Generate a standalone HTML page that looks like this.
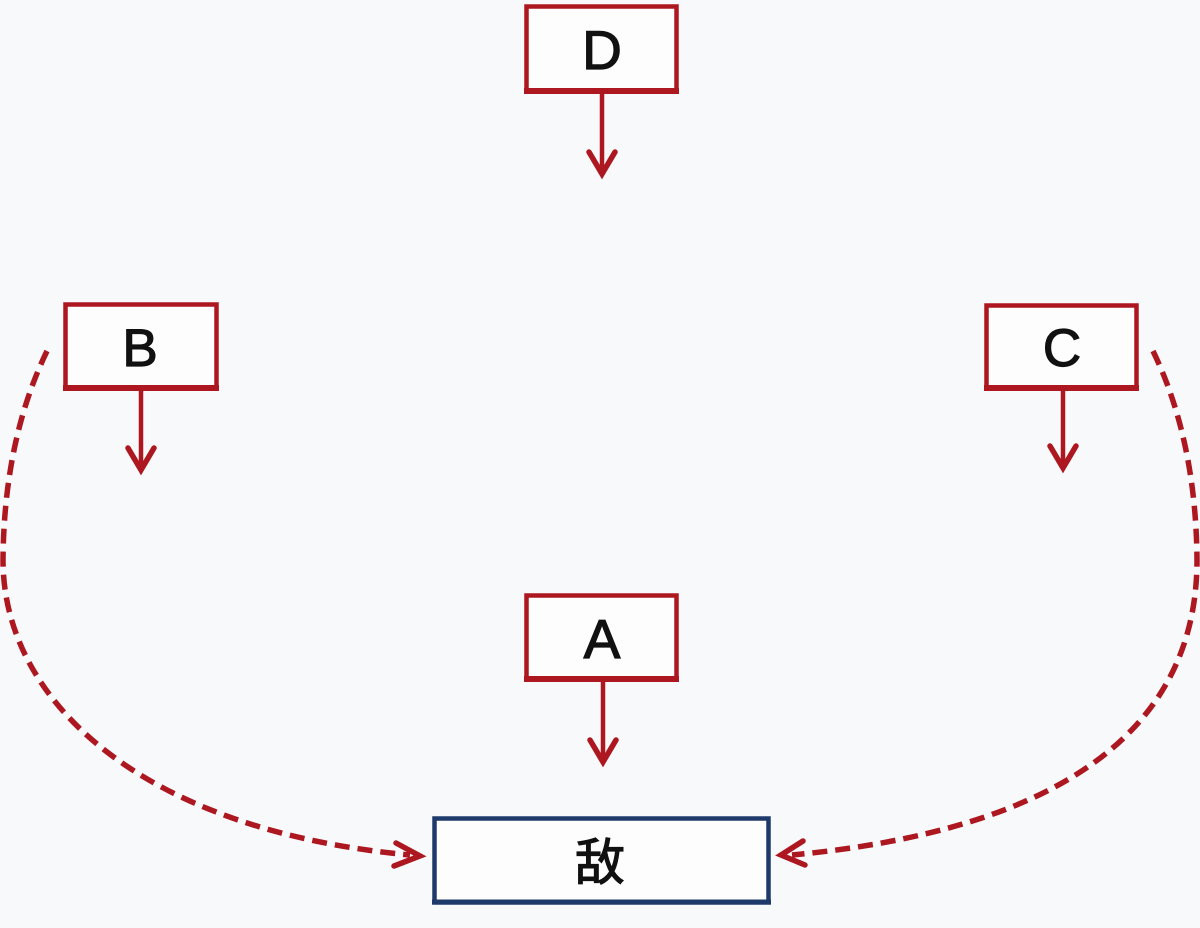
<!DOCTYPE html>
<html>
<head>
<meta charset="utf-8">
<style>
  html, body { margin:0; padding:0; }
  body { width:1200px; height:928px; background:#f8f9fb; overflow:hidden; }
  svg { display:block; }
  text { font-family: "Liberation Sans", "Noto Sans CJK SC", sans-serif; fill:#111; stroke:#111; stroke-width:1.2; }
</style>
</head>
<body>
<svg width="1200" height="928" viewBox="0 0 1200 928" xmlns="http://www.w3.org/2000/svg">
  <rect x="0" y="0" width="1200" height="928" fill="#f8f9fb"/>

  <!-- Box D -->
  <rect x="526.5" y="6.5" width="150" height="85" fill="#fdfdfe" stroke="#ad1820" stroke-width="4.5"/>
  <line x1="524" y1="91" x2="679" y2="91" stroke="#ad1820" stroke-width="6"/>
  <text x="602" y="69" font-size="55" text-anchor="middle">D</text>
  <line x1="602" y1="93" x2="602" y2="172" stroke="#ad1820" stroke-width="4.5"/>
  <polyline points="589,152 602,174 615,152" fill="none" stroke="#ad1820" stroke-width="5.5" stroke-linejoin="miter" stroke-linecap="round"/>

  <!-- Box B -->
  <rect x="65.5" y="304.5" width="151" height="84" fill="#fdfdfe" stroke="#ad1820" stroke-width="4.5"/>
  <line x1="63" y1="388" x2="219" y2="388" stroke="#ad1820" stroke-width="6"/>
  <text x="140" y="366" font-size="53" text-anchor="middle">B</text>
  <line x1="141" y1="390" x2="141" y2="468" stroke="#ad1820" stroke-width="4.5"/>
  <polyline points="128,448 141,470 154,448" fill="none" stroke="#ad1820" stroke-width="5.5" stroke-linejoin="miter" stroke-linecap="round"/>

  <!-- Box C -->
  <rect x="986.5" y="305.5" width="150" height="83" fill="#fdfdfe" stroke="#ad1820" stroke-width="4.5"/>
  <line x1="984" y1="388" x2="1139" y2="388" stroke="#ad1820" stroke-width="6"/>
  <text x="1062" y="366" font-size="53" text-anchor="middle">C</text>
  <line x1="1063" y1="390" x2="1063" y2="465" stroke="#ad1820" stroke-width="4.5"/>
  <polyline points="1050,446 1063,468 1076,446" fill="none" stroke="#ad1820" stroke-width="5.5" stroke-linejoin="miter" stroke-linecap="round"/>

  <!-- Box A -->
  <rect x="526.5" y="595.5" width="150" height="84" fill="#fdfdfe" stroke="#ad1820" stroke-width="4.5"/>
  <line x1="524" y1="679" x2="679" y2="679" stroke="#ad1820" stroke-width="6"/>
  <text x="602" y="658" font-size="55" text-anchor="middle">A</text>
  <line x1="603" y1="681" x2="603" y2="760" stroke="#ad1820" stroke-width="4.5"/>
  <polyline points="590,740 603,762 616,740" fill="none" stroke="#ad1820" stroke-width="5.5" stroke-linejoin="miter" stroke-linecap="round"/>

  <!-- Enemy box -->
  <rect x="434.5" y="818.5" width="334" height="84" fill="#fdfdfe" stroke="#1e3a6a" stroke-width="4.5"/>
  <line x1="432" y1="902" x2="771" y2="902" stroke="#1e3a6a" stroke-width="5"/>
  <text x="600" y="880" font-size="50" text-anchor="middle">敌</text>

  <!-- Left dashed curve -->
  <path d="M47,351 Q4,440 3,560 C3,700 140,830 410,855" fill="none" stroke="#ad1820" stroke-width="5.5" stroke-dasharray="15,8"/>
  <polyline points="396,843 420,856 394,866" fill="none" stroke="#ad1820" stroke-width="5.5" stroke-linejoin="miter" stroke-linecap="round"/>

  <!-- Right dashed curve -->
  <path d="M1153,351 Q1196,440 1197,560 C1197,730 1060,830 792,855" fill="none" stroke="#ad1820" stroke-width="5.5" stroke-dasharray="15,8"/>
  <polyline points="803,841 781,855 805,865" fill="none" stroke="#ad1820" stroke-width="5.5" stroke-linejoin="miter" stroke-linecap="round"/>
</svg>
</body>
</html>
